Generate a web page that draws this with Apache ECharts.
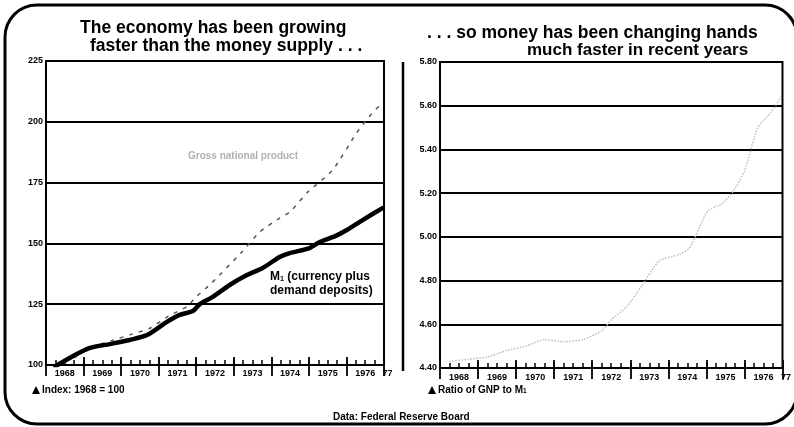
<!DOCTYPE html>
<html>
<head>
<meta charset="utf-8">
<script src="https://cdn.jsdelivr.net/npm/echarts@6/dist/echarts.min.js"></script>
<style>
html,body{margin:0;padding:0;background:#fff;}
#c{width:794px;height:427px;}
</style>
</head>
<body>
<div id="c"></div>
<script>
// ---- data ----
// Left panel: index, 1968 = 100
const m1Time  = [1968.25,1968.7,1969.17,1969.7,1970.23,1970.69,1971.22,1971.56,1971.91,1972.1,1972.44,1972.89,1973.35,1973.77,1974.22,1974.49,1975.02,1975.29,1975.7,1976.01,1976.43,1976.96];
const m1Value = [99.5,103.5,107.0,108.6,110.3,112.3,117.7,120.6,122.2,125.1,128.0,132.9,137.0,139.9,144.4,146.0,148.1,150.6,153.0,155.5,159.6,164.5];
const gnpTime  = [1968.25,1968.75,1969.25,1969.75,1970.25,1970.75,1971.25,1971.75,1972.0,1972.41,1973.21,1973.69,1974.22,1974.49,1974.97,1975.63,1976.27,1976.6,1976.96];
const gnpValue = [100,103,107.5,110,112.5,115,120,124,128,133.7,146.4,154.7,160.4,162.9,171.1,180.1,195.4,202,208];
// Right panel: ratio of GNP to M1
const velTime  = [1968.25,1968.75,1969.25,1969.75,1970.25,1970.75,1971.25,1971.75,1972.25,1972.5,1972.9,1973.28,1973.76,1974.29,1974.56,1975.04,1975.4,1975.71,1976.0,1976.35,1976.7,1976.96];
const velValue = [4.43,4.44,4.45,4.48,4.50,4.53,4.52,4.53,4.57,4.62,4.68,4.77,4.89,4.92,4.95,5.12,5.15,5.21,5.30,5.50,5.57,5.64];
// axis ticks
const leftTicks  = [100,125,150,175,200,225];
const rightTicks = [4.40,4.60,4.80,5.00,5.20,5.40,5.60,5.80];
const years = [1968,1969,1970,1971,1972,1973,1974,1975,1976];

const FONT = "'Liberation Sans', Arial, sans-serif";
const pairs = (t, v) => t.map((x, i) => [x, v[i]]);

const chart = echarts.init(document.getElementById('c'), null, {renderer:'canvas'});

function xAxesFor(g, labelMargin) {
  const base = {type:'value', gridIndex:g, position:'bottom', offset:0, min:1968, max:1977, splitLine:{show:false}};
  return [
    Object.assign({}, base, {
      interval:0.25,
      axisLine:{show:true, lineStyle:{color:'#000', width:2}},
      axisTick:{show:true, inside:true, length:5, lineStyle:{color:'#000', width:1.5}},
      axisLabel:{show:false}
    }),
    Object.assign({}, base, {
      interval:1,
      axisLine:{show:false},
      axisTick:{show:true, inside:true, length:8, lineStyle:{color:'#000', width:1.8}},
      axisLabel:{show:false}
    }),
    Object.assign({}, base, {
      interval:1,
      axisLine:{show:false},
      axisTick:{show:true, inside:false, length:11, lineStyle:{color:'#000', width:1.8}},
      axisLabel:{show:false}
    }),
    Object.assign({}, base, {
      interval:0.5,
      axisLine:{show:false},
      axisTick:{show:false},
      axisLabel:{
        show:true, margin:labelMargin, color:'#000', fontFamily:FONT, fontWeight:'bold', fontSize:9,
        showMinLabel:true, showMaxLabel:true, hideOverlap:false,
        formatter: function (v) {
          const y = Math.floor(v + 1e-6);
          if (Math.abs(v - y - 0.5) < 1e-6 && years.indexOf(y) >= 0) return String(y);
          if (Math.abs(v - 1977) < 1e-6) return '{r|77}';
          return '';
        },
        rich:{r:{fontFamily:FONT, fontWeight:'bold', fontSize:9, color:'#000', padding:[0,0,0,7]}}
      }
    })
  ];
}

const option = {
  animation:false,
  backgroundColor:'#fff',
  grid:[
    {left:46, top:61, width:338, height:304, show:true, borderColor:'#000', borderWidth:2, backgroundColor:'transparent'},
    {left:440, top:62, width:343, height:306, show:true, borderColor:'#000', borderWidth:2, backgroundColor:'transparent'}
  ],
  xAxis: xAxesFor(0, 4).concat(xAxesFor(1, 5)),
  yAxis:[
    {type:'value', gridIndex:0, min:leftTicks[0], max:leftTicks[leftTicks.length-1], interval:25,
      axisLine:{show:true, lineStyle:{color:'#000', width:2}}, axisTick:{show:false},
      axisLabel:{margin:3, color:'#000', fontFamily:FONT, fontWeight:'bold', fontSize:9},
      splitLine:{show:true, lineStyle:{color:'#000', width:2}}},
    {type:'value', gridIndex:1, min:rightTicks[0], max:rightTicks[rightTicks.length-1], interval:0.2,
      axisLine:{show:true, lineStyle:{color:'#000', width:2}}, axisTick:{show:false},
      axisLabel:{margin:3, color:'#000', fontFamily:FONT, fontWeight:'bold', fontSize:9,
        formatter: v => Number(v).toFixed(2)},
      splitLine:{show:true, lineStyle:{color:'#000', width:2}}}
  ],
  series:[
    {name:'Gross national product', type:'line', xAxisIndex:0, yAxisIndex:0, data:pairs(gnpTime, gnpValue),
      showSymbol:false, smooth:0.2, lineStyle:{color:'#555', width:1.5, type:[4,6]}},
    {name:'M1', type:'line', xAxisIndex:0, yAxisIndex:0, data:pairs(m1Time, m1Value),
      showSymbol:false, smooth:0.25, lineStyle:{color:'#000', width:4.5, cap:'round', join:'round'}},
    {name:'Ratio of GNP to M1', type:'line', xAxisIndex:4, yAxisIndex:1, data:pairs(velTime, velValue),
      showSymbol:false, smooth:0.2, lineStyle:{color:'#bdbdbd', width:1.5, type:'dotted'}}
  ],
  graphic:[
    {type:'rect', shape:{x:5, y:5, width:792, height:419, r:32}, style:{fill:null, stroke:'#000', lineWidth:3}, silent:true},
    {type:'line', shape:{x1:403, y1:62, x2:403, y2:371}, style:{stroke:'#000', lineWidth:2.5}, silent:true},
    {type:'text', left:80, top:19, style:{text:'The economy has been growing', font:"bold 17.5px " + FONT, fill:'#000'}},
    {type:'text', left:90, top:37, style:{text:'faster than the money supply . . .', font:"bold 17.5px " + FONT, fill:'#000'}},
    {type:'text', left:427, top:24, style:{text:'. . . so money has been changing hands', font:"bold 17.5px " + FONT, fill:'#000'}},
    {type:'text', left:527, top:42, style:{text:'much faster in recent years', font:"bold 17px " + FONT, fill:'#000'}},
    {type:'text', left:188, top:151, style:{text:'Gross national product', font:"bold 10px " + FONT, fill:'#b0b0b0'}},
    {type:'text', left:270, top:271, style:{text:'{m|M}{s|1}{m| (currency plus}',
      rich:{m:{fontFamily:FONT, fontWeight:'bold', fontSize:12, fill:'#000'}, s:{fontFamily:FONT, fontWeight:'bold', fontSize:7, fill:'#000', verticalAlign:'bottom'}}}},
    {type:'text', left:270, top:285, style:{text:'demand deposits)', font:"bold 12px " + FONT, fill:'#000'}},
    {type:'polygon', shape:{points:[[32,394],[36,386],[40,394]]}, style:{fill:'#000'}},
    {type:'text', left:42, top:385, style:{text:'Index: 1968 = 100', font:"bold 10px " + FONT, fill:'#000'}},
    {type:'polygon', shape:{points:[[428,394],[432,386],[436,394]]}, style:{fill:'#000'}},
    {type:'text', left:438, top:385, style:{text:'{m|Ratio of GNP to M}{s|1}',
      rich:{m:{fontFamily:FONT, fontWeight:'bold', fontSize:10, fill:'#000'}, s:{fontFamily:FONT, fontWeight:'bold', fontSize:6.5, fill:'#000', verticalAlign:'bottom'}}}},
    {type:'text', left:333, top:412, style:{text:'Data: Federal Reserve Board', font:"bold 10px " + FONT, fill:'#000'}}
  ]
};
chart.setOption(option);
</script>
</body>
</html>
